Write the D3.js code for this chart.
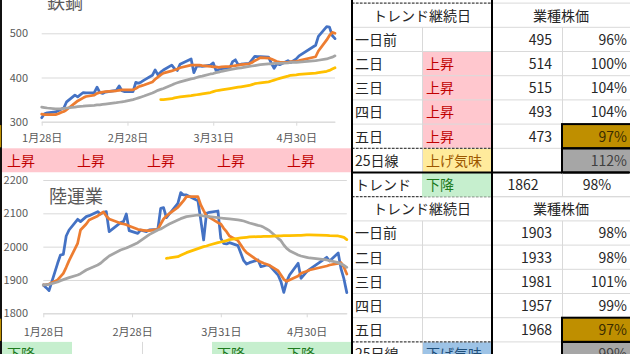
<!DOCTYPE html>
<html lang="ja">
<head>
<meta charset="utf-8">
<title>業種チャート</title>
<script src="https://cdn.jsdelivr.net/npm/d3@7"></script>
<style>
    body { margin: 0; background: #fff; }
    svg { display: block; font-family: "Noto Sans CJK JP", "Noto Sans", sans-serif; }
</style>
</head>
<body>
<div id="sheet"></div>
<script>
// trading days (2026), date axis
const dataYear = 2026;
const tradeDays = [
    "1/28", "1/29", "1/30",
    "2/2", "2/3", "2/4", "2/5", "2/6", "2/9", "2/10", "2/12", "2/13", "2/16", "2/17", "2/18", "2/19", "2/20", "2/24", "2/25", "2/26", "2/27",
    "3/2", "3/3", "3/4", "3/5", "3/6", "3/9", "3/10", "3/11", "3/12", "3/13", "3/16", "3/17", "3/18", "3/19", "3/23", "3/24", "3/25", "3/26", "3/27", "3/30", "3/31",
    "4/1", "4/2", "4/3", "4/6", "4/7", "4/8", "4/9", "4/10", "4/13", "4/14", "4/15", "4/16", "4/17", "4/20", "4/21", "4/22", "4/23", "4/24", "4/27", "4/28", "4/30",
    "5/1", "5/7", "5/8", "5/11", "5/12", "5/13", "5/14"
];
const xTickDays = ["1/28", "2/28", "3/31", "4/30"];
const ma75Start = "3/12";

// 鉄鋼
const steelClose = [
    309, 318, 320,
    322, 325, 328, 331, 345, 360, 356, 366, 365, 366, 378, 366, 364, 367, 371, 381, 370, 368,
    368, 389, 387, 390, 394, 405, 417, 406, 412, 417, 428, 420, 416, 430, 442, 411, 425, 426, 425, 428, 433,
    416, 418, 420, 422, 436, 440, 429, 430, 432, 440, 448, 447, 447, 446, 432, 421, 431, 429, 438, 434, 442,
    449, 473, 493, 515, 514, 495, 488
];
const steelMA5 = [
    317, 316, 316,
    316, 318, 321, 323, 327, 342, 347, 354, 357, 360, 364, 366, 367, 368, 370, 371, 372, 372,
    372, 375, 379, 381, 383, 390, 396, 401, 406, 410, 415, 417, 419, 422, 428, 428, 428, 428, 427, 425, 424,
    424, 423, 424, 425, 426, 427, 428, 429, 431, 434, 438, 441, 445, 444, 442, 439, 436, 435, 434, 436, 436,
    438, 447, 460, 485, 495, 502, 500
];
const steelMA25 = [
    333, 332, 331,
    329, 329, 329, 330, 331, 333, 334, 335, 336, 337, 338, 338, 339, 340, 343, 344, 345, 346,
    350, 352, 354, 356, 358, 365, 368, 371, 373, 375, 383, 386, 388, 390, 397, 398, 400, 402, 403, 408, 409,
    411, 412, 414, 418, 419, 420, 421, 422, 425, 426, 427, 428, 429, 431, 431, 432, 432, 432, 433, 434, 434,
    435, 438, 439, 442, 444, 446, 449
];
// from 3/12
const steelMA75 = [
    350, 350, 352, 354, 355, 356, 359, 360, 361, 362, 363, 366, 368,
    370, 371, 372, 375, 376, 377, 378, 379, 382, 384, 386, 387, 388, 390, 392, 394, 396, 398, 403, 405, 406,
    407, 410, 411, 414, 416, 419, 422
];

// 陸運業
const rikuClose = [
    1885, 1877, 1868,
    1950, 1975, 1977, 2032, 2050, 2082, 2075, 2090, 2093, 2105, 2098, 2103, 2105, 2045, 2072, 2075, 2098, 2048,
    2040, 2050, 2047, 2045, 2050, 2052, 2115, 2117, 2087, 2098, 2130, 2162, 2155, 2155, 2138, 2080, 2020, 2100, 2103, 2107, 2025,
    2010, 2008, 2012, 2003, 1980, 1958, 1948, 1952, 1960, 1940, 1942, 1945, 1943, 1915, 1895, 1863, 1895, 1915, 1950, 1905, 1925,
    1932, 1968, 1957, 1981, 1933, 1903, 1862
];
const rikuMA5 = [
    1885, 1886, 1888,
    1900, 1910, 1920, 1938, 1958, 2010, 2050, 2068, 2080, 2092, 2098, 2104, 2092, 2083, 2070, 2068, 2066, 2062,
    2052, 2050, 2049, 2048, 2048, 2052, 2068, 2083, 2092, 2099, 2118, 2128, 2138, 2150, 2150, 2125, 2108, 2092, 2088, 2072, 2068,
    2055, 2045, 2032, 2018, 2005, 1992, 1982, 1976, 1958, 1954, 1950, 1947, 1944, 1928, 1915, 1902, 1896, 1900, 1912, 1920, 1926,
    1930, 1942, 1945, 1950, 1952, 1938, 1918
];
const rikuMA25 = [
    1885, 1886, 1887,
    1894, 1898, 1901, 1904, 1907, 1915, 1919, 1930, 1934, 1945, 1950, 1958, 1965, 1972, 1990, 1993, 1996, 2000,
    2012, 2018, 2024, 2030, 2036, 2050, 2053, 2058, 2063, 2068, 2080, 2084, 2087, 2090, 2095, 2094, 2092, 2091, 2090, 2087, 2086,
    2085, 2084, 2083, 2080, 2079, 2077, 2074, 2071, 2064, 2062, 2058, 2053, 2048, 2025, 2018, 2005, 1995, 1988, 1975, 1972, 1968,
    1966, 1960, 1958, 1952, 1948, 1944, 1938
];
// from 3/12
const rikuMA75 = [
    1965, 1966, 1970, 1974, 1978, 1982, 1994, 1997, 2000, 2002, 2005, 2012, 2014,
    2016, 2018, 2021, 2025, 2026, 2027, 2028, 2029, 2030, 2030, 2031, 2031, 2031, 2032, 2032, 2033, 2033, 2033, 2034, 2034, 2035,
    2035, 2034, 2033, 2032, 2030, 2028, 2021
];

// table on the right
const dayLabels = ["一日前", "二日", "三日", "四日", "五日"];
const steelPrice = [495, 514, 515, 493, 473];
const steelRatio = ["96%", "100%", "104%", "104%", "97%"];
const steelDayTrend = ["", "上昇", "上昇", "上昇", "上昇"];
const steelMaTrend = "上げ気味";
const steelMaRatio = "112%";
const steelBand = ["上昇", "上昇", "上昇", "上昇", "上昇"];

const rikuLatest = 1862;
const rikuLatestRatio = "98%";
const rikuTrend = "下降";
const rikuPrice = [1903, 1933, 1981, 1957, 1968];
const rikuRatio = ["98%", "98%", "101%", "99%", "97%"];
const rikuDayTrend = ["", "", "", "", ""];
const rikuMaTrend = "下げ気味";
const rikuMaRatio = "99%";
const rikuBand = ["下降", "", "", "下降", "下降"];

const trendStyle = {
    "上昇": { fill: "#FFC7CE", text: "#C00000" },
    "下降": { fill: "#C6EFCE", text: "#1E7B1E" },
    "上げ気味": { fill: "#FFEB9C", text: "#9C5700" },
    "下げ気味": { fill: "#9DC3E6", text: "#1F4E79" }
};

const parseDay = s => {
    let p = s.split("/").map(Number);
    return new Date(dataYear, p[0] - 1, p[1]);
};

// sheet grid
const colX = k => 2 + 70 * k;
const rowH = 24.2;
const splitY = 172.5;
const textColor = "#262626";

const svg = d3.select("#sheet").append("svg")
    .attr("width", 630)
    .attr("height", 354);

svg.append("rect").attr("width", 630).attr("height", 354).attr("fill", "#fff");

class SectorChart {
    constructor(parent, cfg) {
        this.parent = parent;
        this.cfg = cfg;
        this.initVis();
    }

    initVis() {
        let vis = this;
        let c = vis.cfg;

        vis.g = vis.parent.append("g").attr("class", "sector-chart");

        vis.g.append("rect")
            .attr("x", 2)
            .attr("y", c.top)
            .attr("width", 350)
            .attr("height", c.bottom - c.top)
            .attr("fill", "#fff");

        vis.x = d3.scaleTime()
            .domain(d3.extent(tradeDays, parseDay))
            .range([c.plotLeft, c.plotRight]);

        vis.y = d3.scaleLinear()
            .domain(c.yDomain)
            .range(c.yRange);

        vis.yAxis = d3.axisLeft(vis.y)
            .tickValues(c.yTicks)
            .tickFormat(d3.format("d"))
            .tickSize(-(c.plotRight - c.plotLeft))
            .tickPadding(c.plotLeft - 28);

        vis.g.append("g")
            .attr("class", "y-axis")
            .attr("transform", "translate(" + c.plotLeft + ",0)")
            .call(vis.yAxis)
            .call(g => g.select(".domain").remove());

        vis.xAxis = d3.axisBottom(vis.x)
            .tickValues(xTickDays.map(parseDay))
            .tickFormat(d => (d.getMonth() + 1) + "月" + d.getDate() + "日")
            .tickSize(4)
            .tickSizeOuter(0)
            .tickPadding(c.xPad);

        vis.g.append("g")
            .attr("class", "x-axis")
            .attr("transform", "translate(0," + vis.y(c.yDomain[0]) + ")")
            .call(vis.xAxis);

        vis.g.selectAll(".x-axis, .y-axis")
            .attr("font-family", null)
            .attr("font-size", 11);
        vis.g.selectAll(".x-axis line, .y-axis line, .x-axis .domain").attr("stroke", "#d9d9d9");
        vis.g.selectAll(".x-axis text, .y-axis text").attr("fill", "#595959");

        vis.g.append("text")
            .attr("x", c.titleX)
            .attr("y", c.titleY)
            .attr("font-size", 18)
            .attr("fill", "#595959")
            .text(c.title);

        vis.line = d3.line()
            .x(d => vis.x(d.date))
            .y(d => vis.y(d.v));

        // close, 5MA, 25MA, 75MA - later series on top, like Excel
        let series = [
            { values: c.close, start: 0, color: "#4472C4" },
            { values: c.ma5, start: 0, color: "#ED7D31" },
            { values: c.ma25, start: 0, color: "#A5A5A5" },
            { values: c.ma75, start: tradeDays.indexOf(ma75Start), color: "#FFC000" }
        ];

        series.forEach(function (s) {
            let pts = s.values.map((v, i) => ({ date: parseDay(tradeDays[s.start + i]), v: v }));
            vis.g.append("path")
                .datum(pts)
                .attr("fill", "none")
                .attr("stroke", s.color)
                .attr("stroke-width", 2.75)
                .attr("stroke-linejoin", "round")
                .attr("stroke-linecap", "round")
                .attr("d", vis.line);
        });
    }
}

// left band of trend words under each chart
function drawBand(y, words) {
    let g = svg.append("g").attr("class", "band");
    words.forEach(function (w, k) {
        let st = trendStyle[w];
        g.append("rect")
            .attr("x", colX(k))
            .attr("y", y)
            .attr("width", 70)
            .attr("height", rowH)
            .attr("fill", st ? st.fill : "#fff");
        if (w) {
            g.append("text")
                .attr("x", colX(k) + 5)
                .attr("y", y + rowH / 2 + 5.3)
                .attr("font-size", 14)
                .attr("fill", st.text)
                .text(w);
        }
    });
    // gridlines between plain cells
    words.forEach(function (w, k) {
        if (k > 0 && !w && !words[k - 1]) {
            g.append("line")
                .attr("x1", colX(k) + 0.5).attr("x2", colX(k) + 0.5)
                .attr("y1", y).attr("y2", y + rowH)
                .attr("stroke", "#d9d9d9");
        }
    });
}

function cellText(g, x, y, txt, anchor, color) {
    g.append("text")
        .attr("x", x)
        .attr("y", y + rowH / 2 + 5.3)
        .attr("text-anchor", anchor)
        .attr("font-size", 14)
        .attr("fill", color || textColor)
        .text(txt);
}

// summary table: header row at top, then five days, then 25日線
function drawTable(top, d) {
    let g = svg.append("g").attr("class", "table");
    let xA = colX(5), xB = colX(6), xC = colX(7), xD = colX(8), xE = colX(9);

    // trend cell fills
    d.dayTrend.forEach(function (w, i) {
        if (trendStyle[w]) {
            g.append("rect")
                .attr("x", xB).attr("y", top + rowH * (i + 1))
                .attr("width", 70).attr("height", rowH)
                .attr("fill", trendStyle[w].fill);
        }
    });
    let maY = top + rowH * 6;
    g.append("rect")
        .attr("x", xB).attr("y", maY)
        .attr("width", 70).attr("height", rowH)
        .attr("fill", trendStyle[d.maTrend].fill);
    g.append("rect")
        .attr("x", xD).attr("y", top + rowH * 5)
        .attr("width", 70).attr("height", rowH)
        .attr("fill", "#BF8F00");
    g.append("rect")
        .attr("x", xD).attr("y", maY)
        .attr("width", 70).attr("height", rowH)
        .attr("fill", "#A6A6A6");

    // light gridlines
    for (let r = 0; r <= 7; r++) {
        g.append("line")
            .attr("x1", xA).attr("x2", xE)
            .attr("y1", top + rowH * r).attr("y2", top + rowH * r)
            .attr("stroke", "#d9d9d9");
    }
    [xB, xD].forEach(function (x) {
        g.append("line")
            .attr("x1", x + 0.5).attr("x2", x + 0.5)
            .attr("y1", top + rowH).attr("y2", top + rowH * 7)
            .attr("stroke", "#d9d9d9");
    });

    // dashed borders
    [top, maY].forEach(function (y) {
        g.append("line")
            .attr("x1", xA).attr("x2", xC)
            .attr("y1", y).attr("y2", y)
            .attr("stroke", "#222")
            .attr("stroke-dasharray", "2.5,1.5");
    });

    cellText(g, (xA + xC) / 2, top, "トレンド継続日", "middle");
    cellText(g, (xC + xE) / 2 - 1, top, "業種株価", "middle");

    dayLabels.forEach(function (lab, i) {
        let y = top + rowH * (i + 1);
        cellText(g, xA + 3, y, lab, "start");
        if (d.dayTrend[i]) cellText(g, xB + 4, y, d.dayTrend[i], "start", trendStyle[d.dayTrend[i]].text);
        cellText(g, xC + 60, y, d.price[i], "end");
        cellText(g, xD + 65, y, d.ratio[i], "end", i === 4 ? "#3a2c00" : textColor);
    });
    cellText(g, xA + 3, maY, "25日線", "start");
    cellText(g, xB + 4, maY, d.maTrend, "start", trendStyle[d.maTrend].text);
    cellText(g, xD + 65, maY, d.maRatio, "end", "#404040");

    // black frames on the two ratio cells
    [top + rowH * 5, maY].forEach(function (y) {
        g.append("rect")
            .attr("x", xD).attr("y", y)
            .attr("width", 70).attr("height", rowH)
            .attr("fill", "none")
            .attr("stroke", "#000")
            .attr("stroke-width", 2);
    });
}

// top block: 鉄鋼
let steelTop = splitY - rowH * 7;
new SectorChart(svg, {
    title: "鉄鋼", titleX: 47, titleY: 8.5,
    top: 0, bottom: steelTop + rowH * 6,
    plotLeft: 41.7, plotRight: 335,
    yDomain: [300, 500], yRange: [121.7, 33.3], yTicks: [300, 400, 500],
    xPad: 8.7,
    close: steelClose, ma5: steelMA5, ma25: steelMA25, ma75: steelMA75
});
drawBand(steelTop + rowH * 6, steelBand);
drawTable(steelTop, {
    dayTrend: steelDayTrend, price: steelPrice, ratio: steelRatio,
    maTrend: steelMaTrend, maRatio: steelMaRatio
});

// bottom block: 陸運業 (with the latest トレンド row above its header)
let rikuTop = splitY + rowH;
new SectorChart(svg, {
    title: "陸運業", titleX: 49, titleY: 203,
    top: splitY, bottom: rikuTop + rowH * 6,
    plotLeft: 43.3, plotRight: 346.8,
    yDomain: [1800, 2200], yRange: [313.3, 180], yTicks: [1800, 1900, 2000, 2100, 2200],
    xPad: 10.8,
    close: rikuClose, ma5: rikuMA5, ma25: rikuMA25, ma75: rikuMA75
});
drawBand(rikuTop + rowH * 6, rikuBand);
drawTable(rikuTop, {
    dayTrend: rikuDayTrend, price: rikuPrice, ratio: rikuRatio,
    maTrend: rikuMaTrend, maRatio: rikuMaRatio
});

// トレンド row
let tr = svg.append("g").attr("class", "trend-row");
tr.append("rect")
    .attr("x", colX(6)).attr("y", splitY)
    .attr("width", 70).attr("height", rowH)
    .attr("fill", trendStyle[rikuTrend].fill);
tr.append("line")
    .attr("x1", colX(7)).attr("x2", colX(9))
    .attr("y1", splitY + rowH).attr("y2", splitY + rowH)
    .attr("stroke", "#d9d9d9");
tr.append("line")
    .attr("x1", colX(8) + 0.5).attr("x2", colX(8) + 0.5)
    .attr("y1", splitY).attr("y2", splitY + rowH)
    .attr("stroke", "#d9d9d9");
cellText(tr, colX(5) + 3, splitY, "トレンド", "start");
cellText(tr, colX(6) + 4, splitY, rikuTrend, "start", trendStyle[rikuTrend].text);
cellText(tr, colX(7) + 31, splitY, rikuLatest, "middle");
cellText(tr, colX(8) + 35, splitY, rikuLatestRatio, "middle");

// heavy borders
let frame = svg.append("g").attr("class", "frame");
frame.append("rect").attr("x", 0).attr("y", 0).attr("width", 2).attr("height", 354).attr("fill", "#111");
[steelTop + rowH * 5, rikuTop + rowH * 5].forEach(function (y) {
    frame.append("rect").attr("x", 0).attr("y", y + 1).attr("width", 1.2).attr("height", rowH - 2).attr("fill", "#BF8F00");
});
[colX(5), colX(7)].forEach(function (x) {
    frame.append("rect").attr("x", x - 1).attr("y", 0).attr("width", 2).attr("height", 354).attr("fill", "#000");
});
frame.append("rect").attr("x", colX(5) - 1).attr("y", splitY - 1).attr("width", 630 - colX(5)).attr("height", 2).attr("fill", "#000");
</script>
</body>
</html>
